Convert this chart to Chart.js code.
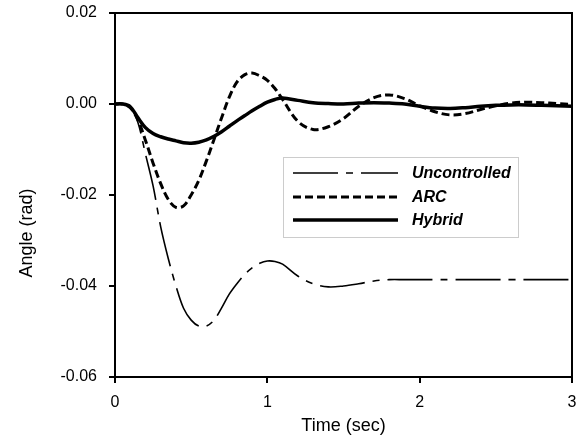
<!DOCTYPE html>
<html>
<head>
<meta charset="utf-8">
<script src="https://cdn.jsdelivr.net/npm/chart.js@4"></script>
<style>
  html, body { margin: 0; padding: 0; background: #fff; }
  #wrap { width: 583px; height: 441px; }
</style>
</head>
<body>
<div id="wrap"><canvas id="myChart" width="583" height="441"></canvas></div>
<script>
// time (sec)
const time = [0, 0.05, 0.1, 0.15, 0.2, 0.25, 0.3, 0.35, 0.4, 0.45, 0.5, 0.55, 0.6, 0.65, 0.7, 0.75,
  0.8, 0.85, 0.9, 0.95, 1.0, 1.05, 1.1, 1.2, 1.3, 1.4, 1.5, 1.6, 1.7, 1.8, 1.9, 2.0, 2.1, 2.2,
  2.3, 2.4, 2.5, 2.6, 2.7, 2.8, 2.9, 3.0]

// angle (rad)
const uncontrolled = [0, 0, -0.0005, -0.004, -0.011, -0.018, -0.027, -0.034, -0.040, -0.0449, -0.0475,
  -0.0488, -0.0488, -0.0475, -0.0448, -0.0418, -0.0395, -0.0375, -0.036, -0.035, -0.0345, -0.0346,
  -0.0352, -0.0378, -0.0395, -0.0402, -0.0400, -0.0395, -0.0389, -0.0386, -0.0386, -0.0386, -0.0386,
  -0.0386, -0.0386, -0.0386, -0.0386, -0.0386, -0.0386, -0.0386, -0.0386, -0.0386]
const arc = [0, 0, -0.0008, -0.0035, -0.008, -0.013, -0.0175, -0.021, -0.0227, -0.0224, -0.020,
  -0.0168, -0.0125, -0.0078, -0.003, 0.0015, 0.0048, 0.0064, 0.0068, 0.0062, 0.0052, 0.0034,
  0.001, -0.0038, -0.0056, -0.005, -0.0032, -0.0005, 0.0014, 0.002, 0.0012, -0.0004, -0.0017,
  -0.0024, -0.0021, -0.0012, -0.0004, 0.0002, 0.0004, 0.0003, 0.0001, -0.0001]
const hybrid = [0, 0, -0.0006, -0.003, -0.0052, -0.0065, -0.0072, -0.0077, -0.0081, -0.0085, -0.0086,
  -0.0084, -0.0079, -0.0071, -0.0061, -0.0049, -0.0037, -0.0026, -0.0015, -0.0005, 0.0004, 0.001,
  0.0013, 0.0008, 0.0003, 0.0001, 0, 0.0002, 0.0003, 0.0002, 0, -0.0005, -0.0009, -0.001,
  -0.0008, -0.0005, -0.0003, -0.0002, -0.0002, -0.0003, -0.0004, -0.0005]

const seriesNames = ['Uncontrolled', 'ARC', 'Hybrid']
const xTicks = [0, 1, 2, 3]
const yTicks = [-0.06, -0.04, -0.02, 0.00, 0.02]

const FONT = "'Liberation Sans', Arial, sans-serif"

function pts(vals) {
  return time.map((t, i) => ({ x: t, y: vals[i] }))
}

// frame on top/right, y title, and the boxed legend inside the plot
const extras = {
  id: 'extras',
  afterDraw(chart) {
    const c = chart.ctx, a = chart.chartArea
    c.save()
    c.strokeStyle = '#000'
    c.lineWidth = 2
    c.strokeRect(a.left, a.top, a.right - a.left, a.bottom - a.top)

    // y title
    c.save()
    c.translate(27, 233)
    c.rotate(-Math.PI / 2)
    c.fillStyle = '#000'
    c.font = '18px ' + FONT
    c.textAlign = 'center'
    c.textBaseline = 'middle'
    c.fillText('Angle (rad)', 0, 0)
    c.restore()

    // legend box
    c.strokeStyle = '#999'
    c.lineWidth = 1
    c.setLineDash([1, 1])
    c.strokeRect(283.5, 157.5, 235, 80)
    const rows = [173, 197, 220]
    chart.data.datasets.forEach((ds, i) => {
      c.strokeStyle = '#000'
      c.lineWidth = ds.borderWidth
      c.setLineDash(ds.borderDash || [])
      c.beginPath()
      c.moveTo(293, rows[i])
      c.lineTo(398, rows[i])
      c.stroke()
      c.setLineDash([])
      c.fillStyle = '#000'
      c.font = 'italic bold 16px ' + FONT
      c.textAlign = 'left'
      c.textBaseline = 'middle'
      c.fillText(ds.label, 412, rows[i] + 1)
    })
    c.restore()
  }
}

const ctx = document.getElementById('myChart').getContext('2d')
const chart = new Chart(ctx, {
  type: 'line',
  data: {
    datasets: [
      {
        label: seriesNames[0],
        data: pts(uncontrolled),
        borderColor: '#000',
        borderWidth: 1.6,
        borderDash: [45, 8, 7, 8],
        pointRadius: 0,
        tension: 0.35
      },
      {
        label: seriesNames[1],
        data: pts(arc),
        borderColor: '#000',
        borderWidth: 3,
        borderDash: [8, 4],
        pointRadius: 0,
        tension: 0.35
      },
      {
        label: seriesNames[2],
        data: pts(hybrid),
        borderColor: '#000',
        borderWidth: 3.5,
        pointRadius: 0,
        tension: 0.35
      }
    ]
  },
  options: {
    responsive: false,
    animation: false,
    layout: { padding: { left: 0, top: 13, right: 11, bottom: 0 } },
    plugins: { legend: { display: false }, tooltip: { enabled: false } },
    scales: {
      x: {
        type: 'linear',
        min: 0,
        max: 3,
        afterBuildTicks: (s) => { s.ticks = xTicks.map(v => ({ value: v })) },
        afterFit: (s) => {
          s.height = 64
          s.paddingLeft = 0
          s.paddingRight = 0
        },
        ticks: {
          color: '#000',
          font: { family: FONT, size: 16 },
          padding: 10,
          maxRotation: 0,
          callback: (v) => String(v)
        },
        grid: { drawOnChartArea: false, tickLength: 6, color: '#000', lineWidth: 2 },
        border: { display: true, color: '#000', width: 2 },
        title: {
          display: true,
          text: 'Time (sec)',
          color: '#000',
          font: { family: FONT, size: 18 },
          padding: { top: 2 }
        }
      },
      y: {
        min: -0.06,
        max: 0.02,
        afterBuildTicks: (s) => { s.ticks = yTicks.map(v => ({ value: v })) },
        afterFit: (s) => {
          s.width = 115
          s.paddingTop = 0
          s.paddingBottom = 0
        },
        ticks: {
          color: '#000',
          font: { family: FONT, size: 16 },
          padding: 12,
          callback: (v) => v.toFixed(2)
        },
        grid: { drawOnChartArea: false, tickLength: 6, color: '#000', lineWidth: 2 },
        border: { display: true, color: '#000', width: 2 }
      }
    }
  },
  plugins: [extras]
})
</script>
</body>
</html>
